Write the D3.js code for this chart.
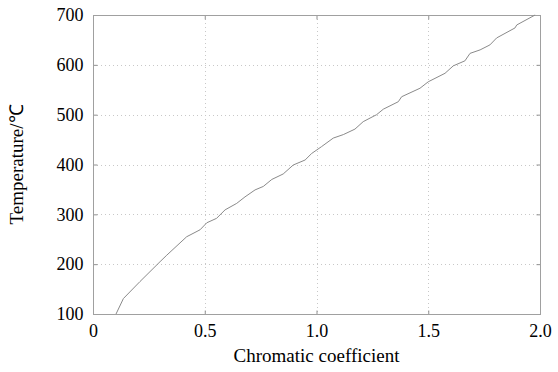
<!DOCTYPE html>
<html><head><meta charset="utf-8">
<script src="https://cdn.jsdelivr.net/npm/d3@7/dist/d3.min.js"></script>
<style>body{margin:0;background:#fff}svg{display:block}</style>
</head><body>
<svg id="c" width="558" height="372"></svg>
<script>
const coeff = [0.103,0.136,0.210,0.30,0.33,0.419,0.479,0.509,0.553,0.591,0.643,0.68,0.725,0.762,0.80,0.851,0.896,0.949,0.978,1.023,1.075,1.12,1.172,1.209,1.269,1.299,1.366,1.381,1.463,1.50,1.575,1.612,1.664,1.687,1.732,1.776,1.806,1.888,1.896,1.978];
const temp  = [100,131,165,205,218,255,269,283,292,309,322,335,349,356,370,381,399,409,422,436,453,460,471,486,500,511,526,536,553,566,583,598,608,623,630,640,654,674,680,700];
const xTicks = [0,0.5,1.0,1.5,2.0];
const xTickLabels = ["0","0.5","1.0","1.5","2.0"];
const yTicks = [100,200,300,400,500,600,700];
const xTitle = "Chromatic coefficient";
const yTitle = "Temperature/\u2103";

const L=93,R=540,T=15,B=314;
const svg=d3.select("#c");
const x=d3.scaleLinear().domain([0,2]).range([L,R]);
const y=d3.scaleLinear().domain([100,700]).range([B,T]);
const font="'Liberation Serif','Times New Roman',serif";

// grid
const g=svg.append("g");
g.selectAll("line.gx").data(xTicks.slice(1,-1)).join("line")
 .attr("x1",d=>Math.round(x(d))+0.5).attr("x2",d=>Math.round(x(d))+0.5).attr("y1",T).attr("y2",B)
 .attr("stroke","#c8c8c8").attr("stroke-dasharray","1,3");
g.selectAll("line.gy").data(yTicks.slice(1,-1)).join("line")
 .attr("y1",d=>Math.round(y(d))+0.5).attr("y2",d=>Math.round(y(d))+0.5).attr("x1",L).attr("x2",R)
 .attr("stroke","#c8c8c8").attr("stroke-dasharray","1,3");

// axes with inward ticks
const ax=svg.append("g").attr("font-family",font).attr("font-size",18);
ax.append("g").attr("transform",`translate(0,${B+0.5})`)
 .call(d3.axisBottom(x).tickValues(xTicks).tickFormat((d,i)=>xTickLabels[i]).tickSizeInner(-4).tickSizeOuter(0).tickPadding(10))
 .call(s=>{s.select(".domain").remove();s.selectAll("text").attr("fill","#000").attr("font-family",font).attr("font-size",18);});
ax.append("g").attr("transform",`translate(${L+0.5},0)`)
 .call(d3.axisLeft(y).tickValues(yTicks).tickFormat(d3.format("d")).tickSizeInner(-4).tickSizeOuter(0).tickPadding(10))
 .call(s=>{s.select(".domain").remove();s.selectAll("text").attr("fill","#000").attr("font-family",font).attr("font-size",18);});
ax.append("g").attr("transform",`translate(${R+0.5},0)`)
 .call(d3.axisRight(y).tickValues(yTicks).tickFormat("").tickSizeInner(-4).tickSizeOuter(0))
 .call(s=>s.select(".domain").remove());
ax.append("g").attr("transform",`translate(0,${T+0.5})`)
 .call(d3.axisTop(x).tickValues(xTicks).tickFormat("").tickSizeInner(-4).tickSizeOuter(0))
 .call(s=>s.select(".domain").remove());
svg.selectAll(".tick line").attr("stroke","#909090");

// frame
svg.append("rect").attr("x",L+0.5).attr("y",T+0.5).attr("width",R-L).attr("height",B-T)
 .attr("fill","none").attr("stroke","#a0a0a0");

// curve
const pts=coeff.map((c,i)=>[c,temp[i]]);
svg.append("path").datum(pts)
 .attr("d",d3.line().x(d=>x(d[0])).y(d=>y(d[1])))
 .attr("fill","none").attr("stroke","#8a8a8a").attr("stroke-width",1);

// titles
svg.append("text").attr("x",(L+R)/2).attr("y",362).attr("text-anchor","middle")
 .attr("font-family",font).attr("font-size",19).text(xTitle);
svg.append("text").attr("transform",`translate(23,${(T+B)/2}) rotate(-90)`).attr("text-anchor","middle")
 .attr("font-family",font).attr("font-size",19).text(yTitle);
</script>
</body></html>
